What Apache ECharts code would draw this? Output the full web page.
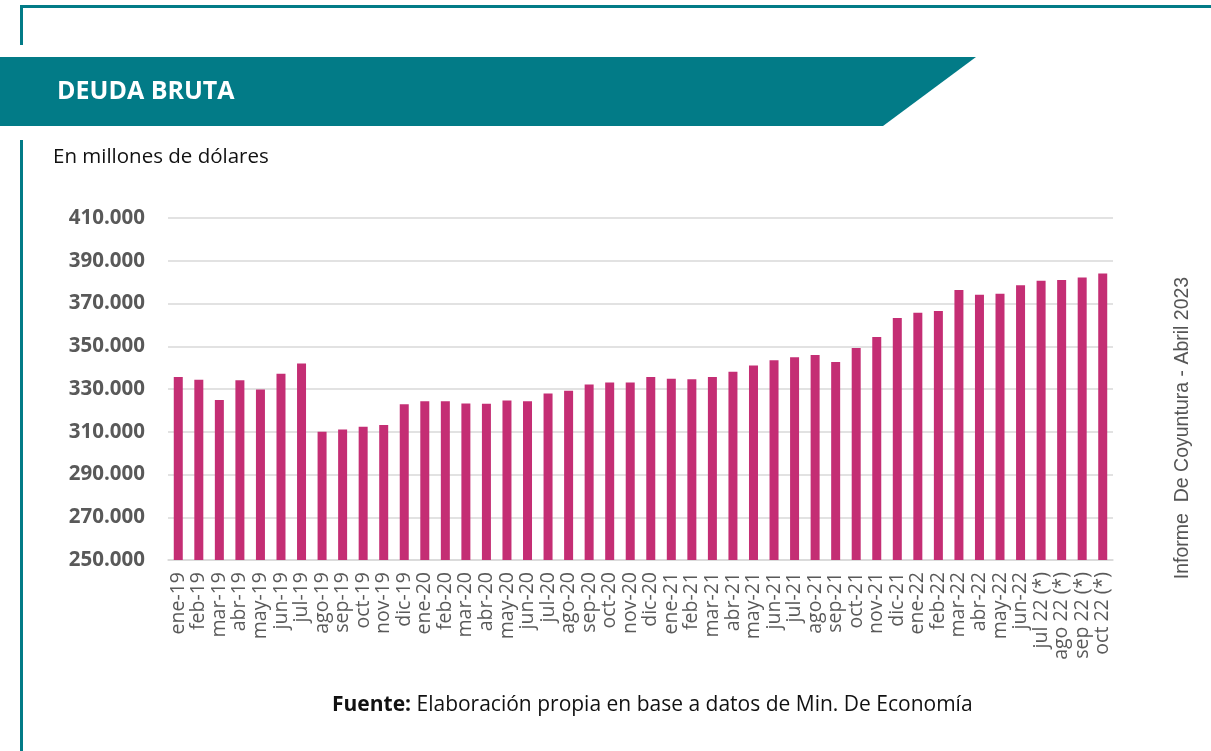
<!DOCTYPE html>
<html>
<head>
<meta charset="utf-8">
<script src="https://cdn.jsdelivr.net/npm/echarts@6/dist/echarts.min.js"></script>
<style>
html,body{margin:0;padding:0;background:#fff;}
#chart{width:1211px;height:751px;}
</style>
</head>
<body>
<div id="chart"></div>
<script>
const categories = ["ene-19","feb-19","mar-19","abr-19","may-19","jun-19","jul-19","ago-19","sep-19","oct-19","nov-19","dic-19",
"ene-20","feb-20","mar-20","abr-20","may-20","jun-20","jul-20","ago-20","sep-20","oct-20","nov-20","dic-20",
"ene-21","feb-21","mar-21","abr-21","may-21","jun-21","jul-21","ago-21","sep-21","oct-21","nov-21","dic-21",
"ene-22","feb-22","mar-22","abr-22","may-22","jun-22","jul 22 (*)","ago 22 (*)","sep 22 (*)","oct 22 (*)"];
const deudaBruta = [335600,334300,324800,334100,329800,337100,341900,310000,311000,312300,313200,322900,
324300,324300,323200,323100,324600,324300,327900,329200,332100,333000,333000,335600,
334800,334600,335600,338100,341000,343500,344900,345900,342600,349200,354300,363200,
365700,366500,376300,374100,374600,378500,380700,381000,382200,384000];
const yTicks = {min:250000, max:410000, interval:20000};
const titleText = "DEUDA BRUTA";
const subtitleText = "En millones de dólares";
const sourceBold = "Fuente:";
const sourceText = " Elaboración propia en base a datos de Min. De Economía";
const sideText = "Informe  De Coyuntura - Abril 2023";

const teal = "#027B87";
const chart = echarts.init(document.getElementById('chart'));
chart.setOption({
  animation:false,
  backgroundColor:'#fff',
  grid:{left:168, right:98, top:218, bottom:191, containLabel:false},
  xAxis:{
    type:'category', data:categories,
    axisLine:{show:true, lineStyle:{color:'#d9d9d9', width:1.5}},
    axisTick:{show:false},
    axisLabel:{rotate:90, interval:0, color:'#595959', fontFamily:'Open Sans', fontSize:19.5, margin:12}
  },
  yAxis:{
    type:'value', min:yTicks.min, max:yTicks.max, interval:yTicks.interval,
    axisLine:{show:false}, axisTick:{show:false},
    splitLine:{lineStyle:{color:'#d9d9d9', width:1.5}},
    axisLabel:{color:'#595959', fontFamily:'Open Sans', fontWeight:'bold', fontSize:20.5, margin:23,
      formatter:v=>v.toString().replace(/\B(?=(\d{3})+(?!\d))/g,'.')}
  },
  series:[{type:'bar', data:deudaBruta, barWidth:9, itemStyle:{color:'#C42E74'}}],
  graphic:[
    {type:'rect', shape:{x:20, y:5, width:1191, height:3}, style:{fill:teal}},
    {type:'rect', shape:{x:20, y:5, width:3, height:40}, style:{fill:teal}},
    {type:'polygon', shape:{points:[[0,57],[976,57],[883,126],[0,126]]}, style:{fill:teal}},
    {type:'rect', shape:{x:20, y:140, width:3, height:611}, style:{fill:teal}},
    {type:'text', x:57, y:92, style:{text:titleText, fill:'#fff', font:'bold 25px "Open Sans"', verticalAlign:'middle'}},
    {type:'text', x:53, y:157, style:{text:subtitleText, fill:'#111', font:'20.5px "Open Sans"', verticalAlign:'middle'}},
    {type:'text', x:1183, y:428, rotation:Math.PI/2, style:{text:sideText, fill:'#555', font:'19.5px "Liberation Sans"', align:'center', verticalAlign:'middle'}},
    {type:'text', x:332, y:705, style:{
      text:'{b|'+sourceBold+'}{r|'+sourceText+'}', verticalAlign:'middle',
      rich:{b:{font:'bold 21px "Open Sans"', fill:'#111'}, r:{font:'21px "Open Sans"', fill:'#111'}}
    }}
  ]
});
</script>
</body>
</html>
